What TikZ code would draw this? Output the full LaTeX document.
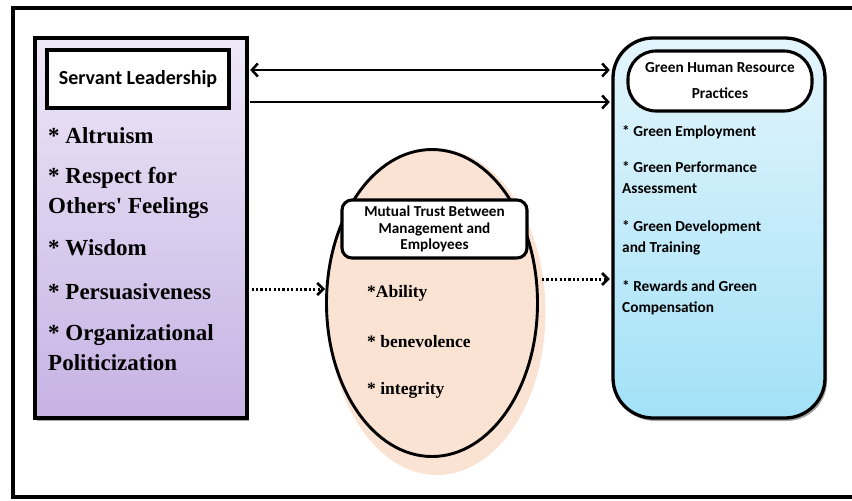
\documentclass[tikz,border=0pt]{standalone}
\usepackage{fontspec}
\setmainfont{Liberation Serif}
\newfontfamily\calfont{Carlito}
\usetikzlibrary{shadows,arrows.meta,shapes.geometric}
\definecolor{purpTop}{HTML}{EEE8F7}
\definecolor{purpBot}{HTML}{C6B2E4}
\definecolor{peach}{HTML}{FBE3D3}
\definecolor{blueTop}{HTML}{E4F5FC}
\definecolor{blueBot}{HTML}{A2E1F7}
\tikzset{
  bigbox/.style={draw, line width=3.3pt, inner sep=0pt},
  shadowed/.style={drop shadow={shadow xshift=2pt, shadow yshift=-3pt, opacity=0.35, fill=black}},
  titlebox/.style={draw, line width=3.1pt, fill=white, inner sep=0pt, align=center},
  serifitem/.style={anchor=west, inner sep=0pt, font=\bfseries\fontsize{23}{30}\selectfont, align=left},
  ellitem/.style={anchor=west, inner sep=0pt, font=\bfseries\fontsize{17.5}{21}\selectfont},
  sansitem/.style={anchor=west, inner sep=0pt, font=\calfont\bfseries\fontsize{15.3}{21}\selectfont, align=left},
  solidarrow/.style={line width=2.5pt, -{Straight Barb[length=6pt,width=13pt,line width=2.5pt]}},
  dotarrow/.style={line width=3pt, dash pattern=on 2.2pt off 2.2pt, -{Straight Barb[length=6pt,width=12pt,line width=2.6pt]}},
}
\begin{document}
\begin{tikzpicture}[x=1pt,y=-1pt]
\useasboundingbox (0,0) rectangle (852,501);
\fill[white] (0,0) rectangle (852,501);
\begin{scope}
\clip (0,0) rectangle (852,501);
\draw[line width=4pt] (13,8) rectangle (880,497);
\end{scope}

% left box
\node[bigbox, shadowed, top color=purpTop, bottom color=purpBot, minimum width=212pt, minimum height=380pt] (sl) at (141,228) {};
\node[titlebox, minimum width=182pt, minimum height=58pt, font=\calfont\bfseries\fontsize{20}{24}\selectfont] (slt) at (138,79) {Servant Leadership};
\node[serifitem] (s1) at (48,136) {* Altruism};
\node[serifitem] (s2) at (48,193) {* Respect for\\Others\textquotesingle\ Feelings};
\node[serifitem] (s3) at (48,248) {* Wisdom};
\node[serifitem] (s4) at (48,292) {* Persuasiveness};
\node[serifitem] (s5) at (48,348) {* Organizational\\Politicization};

% ellipse
\fill[peach] (437,312) ellipse [x radius=108.5pt, y radius=163pt];
\node[ellipse, draw, line width=2.9pt, fill=peach, minimum width=211pt, minimum height=307pt, inner sep=0pt] (mt) at (432,303) {};
\node[titlebox, rounded corners=10pt, minimum width=185pt, minimum height=58pt, font=\calfont\bfseries\fontsize{15.2}{16.5}\selectfont] (mtt) at (434.5,229) {Mutual Trust Between\\Management and\\Employees};
\node[ellitem] (m1) at (367,293) {*Ability};
\node[ellitem] (m2) at (367,342) {* benevolence};
\node[ellitem] (m3) at (367,390) {* integrity};

% right box
\node[bigbox, shadowed, rounded corners=40pt, top color=blueTop, bottom color=blueBot, minimum width=212pt, minimum height=380pt] (gh) at (719,228) {};
\node[titlebox, rounded corners=28pt, minimum width=184pt, minimum height=60pt, font=\calfont\bfseries\fontsize{15.3}{26}\selectfont] (ght) at (720,81) {Green Human Resource\\Practices};
\node[sansitem] (g1) at (622,132) {* Green Employment};
\node[sansitem] (g2) at (622,177.5) {* Green Performance\\Assessment};
\node[sansitem] (g3) at (622,237.5) {* Green Development\\and Training};
\node[sansitem] (g4) at (622,297.5) {* Rewards and Green\\Compensation};

% connectors
\coordinate (y1) at (0,70);
\coordinate (y2) at (0,102);
\coordinate (y3) at (0,289);
\coordinate (y4) at (0,279);
\draw[solidarrow, {Straight Barb[length=6pt,width=13pt,line width=2.5pt]}-{Straight Barb[length=6pt,width=13pt,line width=2.5pt]}] ([xshift=1.5pt]sl.east |- y1) -- ([xshift=-1.5pt]gh.west |- y1);
\draw[solidarrow] ([xshift=1.5pt]sl.east |- y2) -- ([xshift=-1.5pt]gh.west |- y2);
\draw[dotarrow] ([xshift=3pt]sl.east |- y3) -- (mt.west |- y3);
\draw[dotarrow] ([xshift=3pt]mt.east |- y4) -- ([xshift=-1.5pt]gh.west |- y4);
\end{tikzpicture}
\end{document}
